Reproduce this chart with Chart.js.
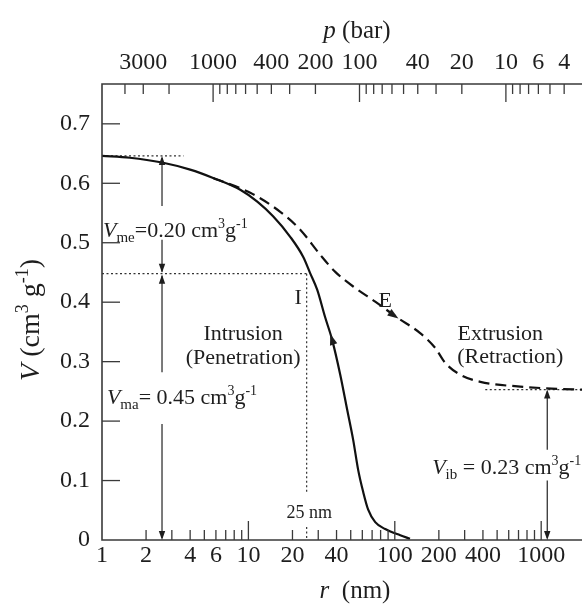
<!DOCTYPE html>
<html><head><meta charset="utf-8">
<script src="https://cdn.jsdelivr.net/npm/chart.js@4.4.0/dist/chart.umd.min.js"></script>
<style>html,body{margin:0;padding:0;background:#fff;}#wrap{width:582px;height:608px;}</style>
</head><body><div id="wrap"><canvas id="c" width="582" height="608"></canvas></div>
<script>
// ---- data ----
const intrusionR = [1, 1.55, 2.57, 4.0, 5.74, 8.8, 11.5, 14.8, 19.3, 23.7, 26.4, 29.5, 33.4, 37.3, 42.4, 47.3, 52, 56.2, 60.8, 65.8, 73.5, 86, 109, 127];
const intrusionV = [0.646, 0.643, 0.635, 0.623, 0.609, 0.589, 0.569, 0.544, 0.510, 0.476, 0.449, 0.421, 0.375, 0.337, 0.278, 0.219, 0.168, 0.118, 0.081, 0.051, 0.030, 0.0185, 0.008, 0.002];
const extrusionR = [5.74, 10.3, 16.5, 22.6, 30.9, 39.2, 53.6, 73.5, 104, 149, 189, 221, 280, 384, 719, 1352, 1900];
const extrusionV = [0.609, 0.584, 0.552, 0.522, 0.480, 0.451, 0.424, 0.401, 0.374, 0.348, 0.323, 0.298, 0.278, 0.266, 0.258, 0.254, 0.253];
const rTicks = [1,2,3,4,5,6,7,8,9,10,20,30,40,50,60,70,80,90,100,200,300,400,500,600,700,800,900,1000];
const rLabels = [1,2,4,6,10,20,40,100,200,400,1000];
const pTicks = [4000,3000,2000,1000,900,800,700,600,500,400,300,200,100,90,80,70,60,50,40,30,20,10,9,8,7,6,5,4];
const pLabels = [3000,1000,400,200,100,40,20,10,6,4];
const vTicks = [0,0.1,0.2,0.3,0.4,0.5,0.6,0.7];
const P_TIMES_R = 5740;   // bar*nm (Washburn constant linking top and bottom axes)
const R_MIN = 1, R_MAX = 1900, V_MAX = 0.767;
const V_TOP = 0.646, V_MID = 0.448, V_IB = 0.253, R_CUT = 25, R_ARROW = 2.57, R_IB = 1100;

const SERIF = '"Liberation Serif", "DejaVu Serif", serif';
const INK = '#1e1e1e';

function pts(rs, vs){ return rs.map((r,i)=>({x:r,y:vs[i]})); }

function font(p){ return (p.i?'italic ':'') + (p.s||22) + 'px ' + SERIF; }
function drawRich(ctx, parts, x, yc, align){
  const base = parts[0].s || 22;
  let w = 0;
  const ms = parts.map(p=>{ ctx.font = font(p); const m = ctx.measureText(p.t).width; w += m; return m; });
  let cx = align==='center' ? x - w/2 : align==='right' ? x - w : x;
  const yb = yc + base*0.33;
  ctx.textAlign='left'; ctx.textBaseline='alphabetic';
  parts.forEach((p,i)=>{ ctx.font = font(p); ctx.fillText(p.t, cx, yb + (p.dy||0)); cx += ms[i]; });
}
function arrowHead(ctx, x, y, ang, len, hw){
  len = len||10; hw = hw||3.5;
  ctx.save(); ctx.translate(x,y); ctx.rotate(ang);
  ctx.beginPath(); ctx.moveTo(0,0); ctx.lineTo(-len,-hw); ctx.lineTo(-len,hw); ctx.closePath(); ctx.fill(); ctx.restore();
}
function line(ctx, x1,y1,x2,y2){ ctx.beginPath(); ctx.moveTo(x1,y1); ctx.lineTo(x2,y2); ctx.stroke(); }

const deco = {
  id:'deco',
  beforeDatasetsDraw(chart){
    const ctx = chart.ctx, X = chart.scales.x, Y = chart.scales.y;
    ctx.save();
    ctx.strokeStyle = '#333'; ctx.lineWidth = 1.2; ctx.setLineDash([2,2.5]);
    line(ctx, X.getPixelForValue(1), Y.getPixelForValue(V_TOP), X.getPixelForValue(3.6), Y.getPixelForValue(V_TOP));
    line(ctx, X.getPixelForValue(1), Y.getPixelForValue(V_MID), X.getPixelForValue(R_CUT), Y.getPixelForValue(V_MID));
    line(ctx, X.getPixelForValue(R_CUT), Y.getPixelForValue(V_MID), X.getPixelForValue(R_CUT), Y.getPixelForValue(0.078));
    line(ctx, X.getPixelForValue(R_CUT), Y.getPixelForValue(0.022), X.getPixelForValue(R_CUT), Y.getPixelForValue(0));
    line(ctx, X.getPixelForValue(415), Y.getPixelForValue(V_IB), X.getPixelForValue(R_MAX), Y.getPixelForValue(V_IB));
    ctx.restore();
  },
  afterDraw(chart){
    const ctx = chart.ctx, X = chart.scales.x, Y = chart.scales.y, T = chart.scales.xTop;
    const a = chart.chartArea;
    ctx.save();
    // frame
    ctx.strokeStyle = '#3a3a3a'; ctx.lineWidth = 1.6; ctx.setLineDash([]);
    ctx.beginPath(); ctx.moveTo(a.right, a.top); ctx.lineTo(a.left, a.top); ctx.lineTo(a.left, a.bottom); ctx.lineTo(a.right, a.bottom); ctx.stroke();
    ctx.lineWidth = 1.3;
    // inward ticks
    vTicks.forEach(v=>{ if(v===0) return; const y = Y.getPixelForValue(v); line(ctx, a.left, y, a.left+18, y); });
    rTicks.forEach(r=>{ if(r===1) return; const x = X.getPixelForValue(r); const major = Math.abs(Math.log10(r)%1)<1e-9; line(ctx, x, a.bottom, x, a.bottom-(major?19:10)); });
    pTicks.forEach(p=>{ const x = T.getPixelForValue(p); const major = Math.abs(Math.log10(p)%1)<1e-9; line(ctx, x, a.top, x, a.top+(major?18:10)); });

    // measurement arrows
    ctx.fillStyle = INK; ctx.strokeStyle = '#222'; ctx.lineWidth = 1.2;
    const xa = X.getPixelForValue(R_ARROW);
    const yTop = Y.getPixelForValue(V_TOP), yMid = Y.getPixelForValue(V_MID), y0 = Y.getPixelForValue(0);
    line(ctx, xa, yTop+2, xa, Y.getPixelForValue(0.562));
    line(ctx, xa, Y.getPixelForValue(0.505), xa, yMid-2);
    arrowHead(ctx, xa, yTop, -Math.PI/2, 9, 3.2);
    arrowHead(ctx, xa, yMid-1, Math.PI/2, 9, 3.2);
    line(ctx, xa, yMid+2, xa, Y.getPixelForValue(0.282));
    line(ctx, xa, Y.getPixelForValue(0.195), xa, y0-2);
    arrowHead(ctx, xa, yMid+1, -Math.PI/2, 9, 3.2);
    arrowHead(ctx, xa, y0, Math.PI/2, 9, 3.2);
    const xb = X.getPixelForValue(R_IB), yIb = Y.getPixelForValue(V_IB);
    line(ctx, xb, yIb+2, xb, Y.getPixelForValue(0.152));
    line(ctx, xb, Y.getPixelForValue(0.100), xb, y0-2);
    arrowHead(ctx, xb, yIb, -Math.PI/2, 9, 3.2);
    arrowHead(ctx, xb, y0, Math.PI/2, 9, 3.2);

    // arrows on the curves (direction taken from neighbouring data points)
    function curveArrow(rs, vs, i, frac, forward){
      const x1 = X.getPixelForValue(rs[i]), y1 = Y.getPixelForValue(vs[i]);
      const x2 = X.getPixelForValue(rs[i+1]), y2 = Y.getPixelForValue(vs[i+1]);
      const x = x1 + (x2-x1)*frac, y = y1 + (y2-y1)*frac;
      let ang = Math.atan2(y2-y1, x2-x1); if(!forward) ang += Math.PI;
      arrowHead(ctx, x, y, ang, 11, 3.8);
    }
    curveArrow(intrusionR, intrusionV, 12, 0.75, false);
    curveArrow(extrusionR, extrusionV, 8, 0.05, true);

    // text annotations
    ctx.fillStyle = INK;
    drawRich(ctx, [{t:'V',i:1,s:22},{t:'me',s:15,dy:5},{t:'=0.20 cm',s:22},{t:'3',s:14,dy:-9},{t:'g',s:22},{t:'-1',s:14,dy:-9}], X.getPixelForValue(1)+1, Y.getPixelForValue(0.522), 'left');
    drawRich(ctx, [{t:'V',i:1,s:22},{t:'ma',s:15,dy:5},{t:'= 0.45 cm',s:22},{t:'3',s:14,dy:-9},{t:'g',s:22},{t:'-1',s:14,dy:-9}], X.getPixelForValue(1.08), Y.getPixelForValue(0.241), 'left');
    drawRich(ctx, [{t:'V',i:1,s:22},{t:'ib',s:15,dy:5},{t:' = 0.23 cm',s:22},{t:'3',s:14,dy:-9},{t:'g',s:22},{t:'-1',s:14,dy:-9}], X.getPixelForValue(180), Y.getPixelForValue(0.123), 'left');
    drawRich(ctx, [{t:'Intrusion',s:22}], X.getPixelForValue(9.2), Y.getPixelForValue(0.348), 'center');
    drawRich(ctx, [{t:'(Penetration)',s:22}], X.getPixelForValue(9.2), Y.getPixelForValue(0.308), 'center');
    drawRich(ctx, [{t:'Extrusion',s:22}], X.getPixelForValue(525), Y.getPixelForValue(0.348), 'center');
    drawRich(ctx, [{t:'(Retraction)',s:22}], X.getPixelForValue(615), Y.getPixelForValue(0.310), 'center');
    drawRich(ctx, [{t:'I',s:22}], X.getPixelForValue(21.9), Y.getPixelForValue(0.409), 'center');
    drawRich(ctx, [{t:'E',s:22}], X.getPixelForValue(86), Y.getPixelForValue(0.404), 'center');
    drawRich(ctx, [{t:'25 nm',s:18}], X.getPixelForValue(26), Y.getPixelForValue(0.047), 'center');

    // axis titles
    drawRich(ctx, [{t:'p',i:1,s:25},{t:' (bar)',s:25}], 357, 30, 'center');
    drawRich(ctx, [{t:'r',i:1,s:25},{t:'  (nm)',s:25}], 355, 590, 'center');
    ctx.save(); ctx.translate(30, 320); ctx.rotate(-Math.PI/2);
    drawRich(ctx, [{t:'V',i:1,s:28},{t:' (cm',s:28},{t:'3',s:18,dy:-11},{t:' g',s:28},{t:'-1',s:18,dy:-11},{t:')',s:28}], 0, 0, 'center');
    ctx.restore();
    ctx.restore();
  }
};

const tickFont = {family: SERIF, size: 24};
new Chart(document.getElementById('c'), {
  type:'line',
  data:{ datasets:[
    {data: pts(intrusionR, intrusionV), borderColor:'#111', borderWidth:2.2, pointRadius:0, cubicInterpolationMode:'monotone', fill:false},
    {data: pts(extrusionR, extrusionV), borderColor:'#111', borderWidth:2.2, borderDash:[11,6], pointRadius:0, cubicInterpolationMode:'monotone', fill:false}
  ]},
  options:{
    responsive:false, animation:false, devicePixelRatio:1,
    layout:{padding:0},
    plugins:{legend:{display:false}, tooltip:{enabled:false}},
    scales:{
      x:{ type:'logarithmic', position:'bottom', min:R_MIN, max:R_MAX,
          grid:{display:false, drawTicks:false}, border:{display:false},
          afterBuildTicks:s=>{ s.ticks = rTicks.map(v=>({value:v})); },
          afterFit:s=>{ s.height = 68; },
          ticks:{ autoSkip:false, maxRotation:0, padding:1, color:INK, font:tickFont,
                  callback:v=> rLabels.includes(v) ? String(v) : '' } },
      xTop:{ type:'logarithmic', axis:'x', position:'top', reverse:true, min:P_TIMES_R/R_MAX, max:P_TIMES_R/R_MIN,
          grid:{display:false, drawTicks:false}, border:{display:false},
          afterBuildTicks:s=>{ s.ticks = pTicks.map(v=>({value:v})); },
          afterFit:s=>{ s.height = 84; },
          ticks:{ autoSkip:false, maxRotation:0, padding:7, color:INK, font:tickFont,
                  callback:v=> pLabels.includes(v) ? String(v) : '' } },
      y:{ type:'linear', min:0, max:V_MAX,
          grid:{display:false, drawTicks:false}, border:{display:false},
          afterBuildTicks:s=>{ s.ticks = vTicks.map(v=>({value:v})); },
          afterFit:s=>{ s.width = 102; },
          ticks:{ padding:12, color:INK, font:tickFont, callback:v=> v===0 ? '0' : v.toFixed(1) } }
    }
  },
  plugins:[deco]
});
</script></body></html>
